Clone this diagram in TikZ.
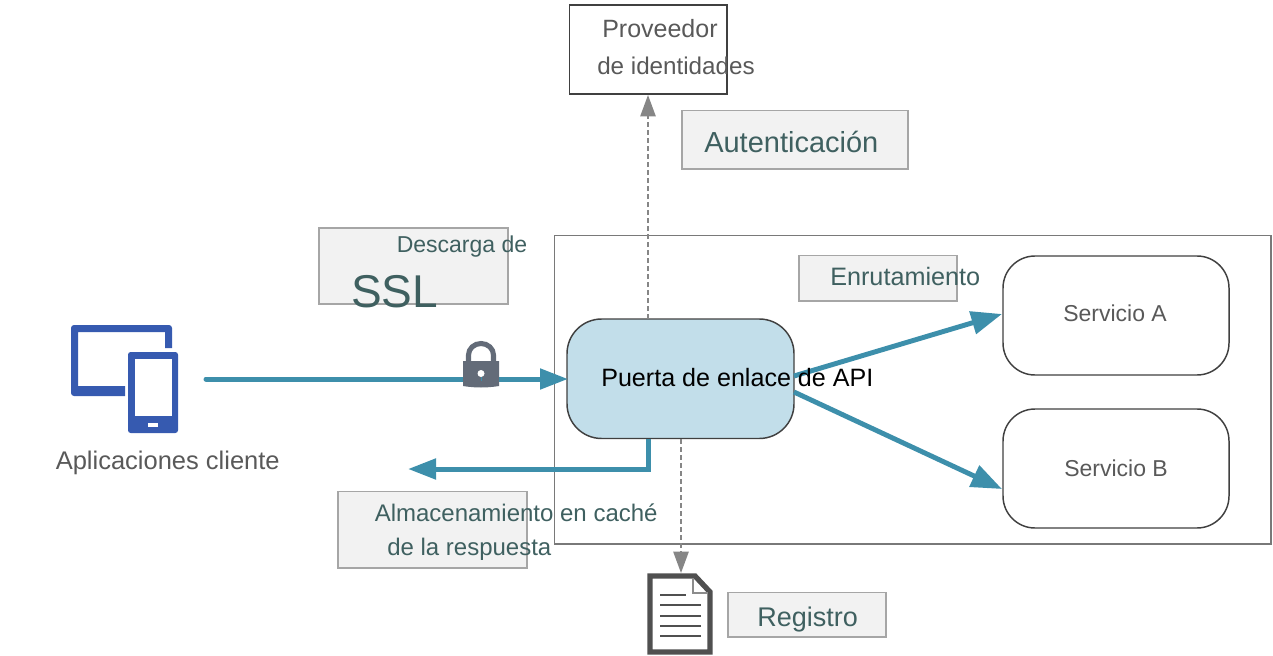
\documentclass[tikz,border=0pt]{standalone}
\usepackage{fontspec}
\setmainfont{Liberation Sans}
\usetikzlibrary{arrows.meta,calc}
\definecolor{flow}{HTML}{3D8FAB}
\definecolor{gwfill}{HTML}{C2DEEA}
\definecolor{darkline}{HTML}{404040}
\definecolor{txt}{HTML}{595959}
\definecolor{lbl}{HTML}{3F6060}
\definecolor{lblfill}{HTML}{F2F2F2}
\definecolor{lblline}{HTML}{A6A6A6}
\definecolor{dev}{HTML}{365AB0}
\definecolor{lockc}{HTML}{636B78}
\definecolor{docc}{HTML}{505050}
\newcommand{\pxf}[1]{\fontsize{\dimexpr #1pt*3/4\relax}{\dimexpr #1pt*9/10\relax}\selectfont}
\tikzset{
  x=0.75pt,y=-0.75pt,
  tag/.style={inner sep=0pt,anchor=base west},
  flowline/.style={draw=flow,line width=3.75pt,-{Triangle[length=21pt,width=15pt]}},
  flowline2/.style={draw=flow,line width=3.7pt,-{Triangle[length=23pt,width=17pt]}},
  dashline/.style={draw=gray!95,line width=1.1pt,dash pattern=on 3.5pt off 2.5pt,-{Triangle[length=16pt,width=11.5pt]}},
}
\newcommand{\boxat}[6]{% name, x0,y0,x1,y1, style
  \node[#6,inner sep=0pt,minimum width=#4*0.75pt-#2*0.75pt,minimum height=#5*0.75pt-#3*0.75pt] (#1) at ({(#2+#4)/2},{(#3+#5)/2}) {};}
\begin{document}
\begin{tikzpicture}
\useasboundingbox (0,0) rectangle (1273,656);
\tikzset{
  lblbox/.style={draw=lblline,fill=lblfill,line width=1.1pt},
  whitebox/.style={draw=darkline,fill=white,line width=1.1pt},
  svc/.style={whitebox,rounded corners=24pt},
}
% zone
\boxat{zone}{554.5}{235.5}{1271}{544}{draw=gray!95!black,line width=1.2pt}
% label boxes
\boxat{authbox}{682}{110.5}{908}{169}{lblbox}
\boxat{sslbox}{319}{228}{508}{304}{lblbox}
\boxat{routebox}{799}{255.5}{957}{301}{lblbox}
\boxat{cachebox}{338}{491.5}{527}{568}{lblbox}
\boxat{logbox}{728}{592.5}{886}{637}{lblbox}
% main boxes
\boxat{idp}{569.5}{5}{727}{94}{whitebox}
\boxat{gw}{567}{319}{794}{438.5}{draw=darkline,fill=gwfill,line width=1.1pt,rounded corners=26pt}
\boxat{svca}{1003}{256}{1229}{375}{svc}
\boxat{svcb}{1003}{409}{1229}{528}{svc}
% connector ends
\coordinate (clientout) at (206,379);
\coordinate (gwin) at (568,379);
\coordinate (upstart) at (648,319);
\coordinate (upend) at (648,95);
\coordinate (downstart) at (681,439);
\coordinate (downend) at (681,573);
\coordinate (cachestart) at (648,439);
\coordinate (cachebend) at (648,469);
\coordinate (cacheend) at (408,469);
\coordinate (aout) at (794,376);
\coordinate (ain) at (1002,314);
\coordinate (bout) at (794,392);
\coordinate (bin) at (1002,489);
% connectors
\draw[dashline] (upstart) -- (upend);
\draw[dashline] (downstart) -- (downend);
\draw[flowline,line cap=round] (clientout) -- (gwin);
\draw[flowline] (cachestart) -- (cachebend) -- (cacheend);
\draw[flowline2] (aout) -- (ain);
\draw[flowline2] (bout) -- (bin);
% device icon
\fill[dev] (172,348) -- (172,328) arc[start angle=0,end angle=-90,radius=3] -- (74,325) arc[start angle=-90,end angle=-180,radius=3] -- (71,393) arc[start angle=180,end angle=90,radius=3] -- (125,396) -- (125,386) -- (78,386) -- (78,332) -- (165,332) -- (165,348) -- cycle;
\fill[dev,rounded corners=2pt] (128,352) rectangle (178,433);
\fill[white] (135,359) rectangle (172,416);
\fill[white] (148,423) rectangle (158,426.5);
% lock
\draw[lockc,line width=3.8pt] (468.5,362) -- (468.5,355) arc[start angle=180,end angle=360,x radius=12.5,y radius=11.5] -- (493.5,362);
\fill[lockc] (463,361) -- (499,361) -- (499,386) .. controls (487,388) and (475,388) .. (463,386) -- cycle;
\fill[white] (481,373.5) circle[radius=3.5];
\draw[flow,line width=0.6pt] (481,377) -- (481,381);
% document
\draw[docc,line width=4pt,fill=white,line join=miter] (650,576) -- (695,576) -- (710,592) -- (710,652) -- (650,652) -- cycle;
\draw[gray!90,line width=1.5pt] (693,578) -- (693,593) -- (708,593);
\draw[docc,line width=2.1pt] (660,595) -- (686,595) (660,605) -- (701,605) (660,616) -- (701,616) (660,626) -- (701,626) (660,636) -- (701,636);
% texts
\node[tag,text=txt] (tprov) at (602,38) {\pxf{25}Proveedor};
\node[tag,text=txt] (tident) at (597,75) {\pxf{24.2}de identidades};
\node[tag,text=lbl] (tauth) at (704,152) {\pxf{29}Autenticación};
\node[tag,text=lbl] (tdesc) at (396.5,252) {\pxf{23}Descarga de};
\node[tag,text=lbl] (tssl) at (351,307) {\pxf{46}SSL};
\node[tag,text=lbl] (troute) at (830,285) {\pxf{25.2}Enrutamiento};
\node[tag,text=black] (tgw) at (601,386) {\pxf{25.1}Puerta de enlace de API};
\node[tag,text=txt] (tsa) at (1063,321) {\pxf{23}Servicio A};
\node[tag,text=txt] (tsb) at (1064,476) {\pxf{23}Servicio B};
\node[tag,text=txt] (tapp) at (55.5,469) {\pxf{25.5}Aplicaciones cliente};
\node[tag,text=lbl] (tcache) at (374.5,521) {\pxf{24}Almacenamiento en caché};
\node[tag,text=lbl] (tresp) at (387,555) {\pxf{24}de la respuesta};
\node[tag,text=lbl] (tlog) at (757,626) {\pxf{27}Registro};
\end{tikzpicture}
\end{document}
